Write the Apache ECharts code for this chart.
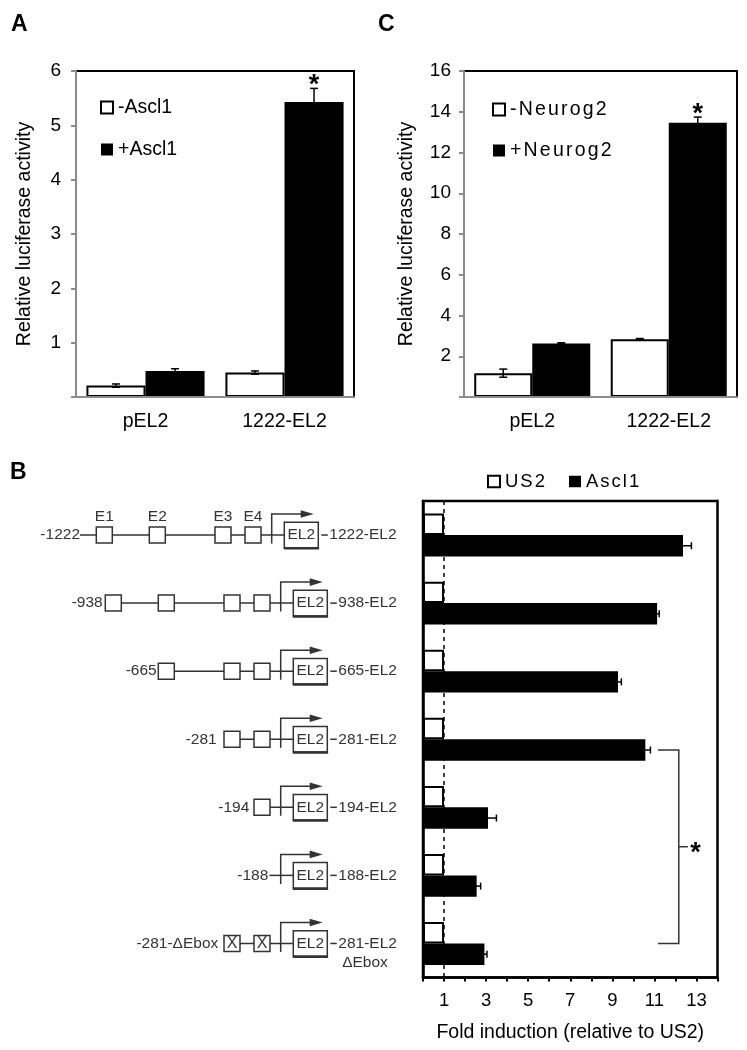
<!DOCTYPE html>
<html><head><meta charset="utf-8">
<script src="https://cdn.jsdelivr.net/npm/echarts@6/dist/echarts.min.js"></script>
<style>html,body{margin:0;padding:0;background:#fff}#c{width:747px;height:1050px}</style>
</head><body><div id="c"></div>
<script>
// ---------- Panel A ----------
const catsA = ['pEL2', '1222-EL2'];
const minusAscl1 = [0.21, 0.45];
const minusAscl1Err = [0.03, 0.03];
const plusAscl1 = [0.48, 5.43];
const plusAscl1Err = [0.04, 0.25];
const sigA = ['', '*'];
const ticksA = [1, 2, 3, 4, 5, 6];
// ---------- Panel C ----------
const catsC = ['pEL2', '1222-EL2'];
const minusNeurog2 = [1.17, 2.84];
const minusNeurog2Err = [0.2, 0.03];
const plusNeurog2 = [2.63, 13.46];
const plusNeurog2Err = [0.03, 0.28];
const sigC = ['', '*'];
const ticksC = [2, 4, 6, 8, 10, 12, 14, 16];
// ---------- Panel B ----------
const constructs = ['1222-EL2', '938-EL2', '665-EL2', '281-EL2', '194-EL2', '188-EL2', '281-EL2\nΔEbox'];
const startLabels = ['-1222', '-938', '-665', '-281', '-194', '-188', '-281-ΔEbox'];
const eboxNames = ['E1', 'E2', 'E3', 'E4'];
// 1 = E-box present, 2 = mutated E-box, 0 = absent
const eboxes = [[1,1,1,1],[1,1,1,1],[0,1,1,1],[0,0,1,1],[0,0,0,1],[0,0,0,0],[0,0,2,2]];
const us2 = [1, 1, 1, 1, 1, 1, 1];
const ascl1 = [12.36, 11.13, 9.27, 10.57, 3.09, 2.55, 2.92];
const ascl1Err = [0.4, 0.1, 0.16, 0.24, 0.4, 0.19, 0.12];
const foldTicks = [1, 3, 5, 7, 9, 11, 13];
const sigBFrom = 3, sigBTo = 6, sigBLabel = '*';

const FONT = '"Liberation Sans", Arial, Helvetica, sans-serif';
const chart = echarts.init(document.getElementById('c'));

function spaced(name) { return name.split('').map(c => '{s|' + c + '}').join(''); }

const FRAC_AC = 0.425, FRAC_B = 0.315;

function vErrSeries(xi, yi, vals, errs, g, sigs) {
  return {
    type: 'custom', xAxisIndex: xi, yAxisIndex: yi, z: 5, silent: true,
    data: vals.map((v, i) => [i, v, errs[i]]),
    encode: { x: 0, y: 1 },
    renderItem: (params, api) => {
      const i = api.value(0), v = api.value(1), e = api.value(2);
      const band = api.size([1, 0])[0];
      const off = (g === 0 ? -0.5 : 0.5) * band * FRAC_AC;
      const pT = api.coord([i, v + e]), pB = api.coord([i, v - e]);
      const x = pT[0] + off;
      const st = { stroke: '#000', lineWidth: 1.5 };
      const ch = [
        { type: 'line', shape: { x1: x, y1: pT[1], x2: x, y2: pB[1] }, style: st },
        { type: 'line', shape: { x1: x - 4, y1: pT[1], x2: x + 4, y2: pT[1] }, style: st },
        { type: 'line', shape: { x1: x - 4, y1: pB[1], x2: x + 4, y2: pB[1] }, style: st }
      ];
      const s = sigs ? sigs[params.dataIndex] : '';
      if (s) ch.push({ type: 'text', style: { text: s, x: x, y: pT[1] - 3, align: 'center', verticalAlign: 'middle', textAlign: 'center', textVerticalAlign: 'middle', fontSize: 27, fontWeight: 'bold', fontFamily: FONT, fill: '#000' } });
      return { type: 'group', children: ch };
    }
  };
}

function hErrSeries(vals, errs, g) {
  return {
    type: 'custom', xAxisIndex: 2, yAxisIndex: 2, z: 5, silent: true,
    data: vals.map((v, i) => [v, i, errs[i]]),
    encode: { x: 0, y: 1 },
    renderItem: (params, api) => {
      const v = api.value(0), i = api.value(1), e = api.value(2);
      const band = Math.abs(api.size([0, 1])[1]);
      const off = (g === 0 ? -0.5 : 0.5) * band * FRAC_B;
      const pR = api.coord([v + e, i]), pL = api.coord([v - e, i]);
      const y = pR[1] + off;
      const st = { stroke: '#000', lineWidth: 1.5 };
      return { type: 'group', children: [
        { type: 'line', shape: { x1: pL[0], y1: y, x2: pR[0], y2: y }, style: st },
        { type: 'line', shape: { x1: pR[0], y1: y - 3.5, x2: pR[0], y2: y + 3.5 }, style: st },
        { type: 'line', shape: { x1: pL[0], y1: y - 3.5, x2: pL[0], y2: y + 3.5 }, style: st }
      ] };
    }
  };
}

const bracketSeries = {
  type: 'custom', xAxisIndex: 2, yAxisIndex: 2, z: 6, silent: true,
  data: [[sigBFrom, sigBTo]],
  encode: { x: -1, y: -1 },
  renderItem: (params, api) => {
    const from = api.value(0), to = api.value(1);
    const band = Math.abs(api.size([0, 1])[1]);
    const yTop = api.coord([0, from])[1] + band * FRAC_B / 2;
    const yBot = api.coord([0, to])[1];
    const xL = api.coord([11.17, 0])[0], xV = api.coord([12.16, 0])[0];
    const xT = api.coord([12.59, 0])[0], xS = api.coord([12.96, 0])[0];
    const yM = (yTop + yBot) / 2;
    const st = { stroke: '#333', lineWidth: 1.5 };
    return { type: 'group', children: [
      { type: 'polyline', shape: { points: [[xL, yTop], [xV, yTop], [xV, yBot], [xL, yBot]] }, style: Object.assign({ fill: null }, st) },
      { type: 'line', shape: { x1: xV, y1: yM, x2: xT, y2: yM }, style: st },
      { type: 'text', style: { text: sigBLabel, x: xS, y: yM + 7, align: 'center', verticalAlign: 'middle', textAlign: 'center', textVerticalAlign: 'middle', fontSize: 27, fontWeight: 'bold', fontFamily: FONT, fill: '#000' } }
    ] };
  }
};

const greyAxis = '#8c8c8c';
const txt = (size) => ({ fontSize: size, color: '#000', fontFamily: FONT });

const option = {
  animation: false,
  textStyle: { fontFamily: FONT },
  grid: [
    { left: 76, top: 71, width: 278, height: 326, show: true, borderColor: '#000', borderWidth: 2, outerBoundsMode: 'none', containLabel: false },
    { left: 464, top: 71, width: 273, height: 326, show: true, borderColor: '#000', borderWidth: 2, outerBoundsMode: 'none', containLabel: false },
    { left: 423, top: 501, width: 294.5, height: 476.5, show: true, borderColor: '#000', borderWidth: 2.5, outerBoundsMode: 'none', containLabel: false }
  ],
  legend: [
    { data: ['-Ascl1', '+Ascl1'], orient: 'vertical', left: 100, top: 97.5, padding: 0, itemWidth: 12, itemHeight: 12, itemGap: 22, icon: 'rect', selectedMode: false, textStyle: txt(19.5), itemStyle: { borderWidth: 2 } },
    { data: ['-Neurog2', '+Neurog2'], orient: 'vertical', left: 492, top: 99.5, padding: 0, itemWidth: 12, itemHeight: 12, itemGap: 21, icon: 'rect', selectedMode: false, formatter: spaced, textStyle: Object.assign(txt(19.5), { rich: { s: { fontSize: 19.5, fontFamily: FONT, color: '#000', padding: [0, 2.2, 0, 0] } } }), itemStyle: { borderWidth: 2 } },
    { data: ['US2', 'Ascl1'], orient: 'horizontal', left: 487, top: 472, padding: 0, itemWidth: 12, itemHeight: 11.5, itemGap: 24, icon: 'rect', selectedMode: false, formatter: spaced, textStyle: Object.assign(txt(18.5), { rich: { s: { fontSize: 18.5, fontFamily: FONT, color: '#000', padding: [0, 2, 0, 0] } } }), itemStyle: { borderWidth: 2 } }
  ],
  xAxis: [
    { gridIndex: 0, type: 'category', data: catsA, z: 3, axisLine: { lineStyle: { color: greyAxis, width: 2 } }, axisTick: { show: false }, axisLabel: Object.assign({ margin: 15 }, txt(19.5)) },
    { gridIndex: 1, type: 'category', data: catsC, z: 3, axisLine: { lineStyle: { color: greyAxis, width: 2 } }, axisTick: { show: false }, axisLabel: Object.assign({ margin: 15 }, txt(19.5)) },
    { gridIndex: 2, type: 'value', min: 0, max: 14, interval: 1, z: 3, splitLine: { show: false },
      axisLine: { show: true, lineStyle: { color: '#000', width: 2.5 } }, axisTick: { show: true, length: 4, lineStyle: { color: '#000', width: 2 } },
      axisLabel: Object.assign({ margin: 14, formatter: v => foldTicks.includes(v) ? String(v) : '' }, txt(18.5)),
      name: 'Fold induction (relative to US2)', nameLocation: 'middle', nameGap: 45, nameTextStyle: txt(19.5) }
  ],
  yAxis: [
    { gridIndex: 0, type: 'value', min: 0, max: 6, interval: 1, z: 3, splitLine: { show: false },
      axisLine: { show: true, lineStyle: { color: greyAxis, width: 2 } }, axisTick: { show: true, length: 5, lineStyle: { color: greyAxis, width: 2 } },
      axisLabel: Object.assign({ margin: 15, formatter: v => ticksA.includes(v) ? String(v) : '' }, txt(19)),
      name: 'Relative luciferase activity', nameLocation: 'middle', nameGap: 41, nameTextStyle: txt(19.5) },
    { gridIndex: 1, type: 'value', min: 0, max: 16, interval: 2, z: 3, splitLine: { show: false },
      axisLine: { show: true, lineStyle: { color: greyAxis, width: 2 } }, axisTick: { show: true, length: 5, lineStyle: { color: greyAxis, width: 2 } },
      axisLabel: Object.assign({ margin: 13, formatter: v => ticksC.includes(v) ? String(v) : '' }, txt(19)),
      name: 'Relative luciferase activity', nameLocation: 'middle', nameGap: 47, nameTextStyle: txt(19.5) },
    { gridIndex: 2, type: 'category', inverse: true, data: constructs, z: 3,
      axisLine: { show: true, lineStyle: { color: '#000', width: 2.5 } }, axisTick: { show: false }, axisLabel: { show: false } }
  ],
  series: [
    { name: '-Ascl1', type: 'bar', xAxisIndex: 0, yAxisIndex: 0, data: minusAscl1, barWidth: '42.5%', barGap: '0%', itemStyle: { color: '#fff', borderColor: '#000', borderWidth: 2 } },
    { name: '+Ascl1', type: 'bar', xAxisIndex: 0, yAxisIndex: 0, data: plusAscl1, barWidth: '42.5%', barGap: '0%', itemStyle: { color: '#000' } },
    vErrSeries(0, 0, minusAscl1, minusAscl1Err, 0, null),
    vErrSeries(0, 0, plusAscl1, plusAscl1Err, 1, sigA),
    { name: '-Neurog2', type: 'bar', xAxisIndex: 1, yAxisIndex: 1, data: minusNeurog2, barWidth: '42.5%', barGap: '0%', itemStyle: { color: '#fff', borderColor: '#000', borderWidth: 2 } },
    { name: '+Neurog2', type: 'bar', xAxisIndex: 1, yAxisIndex: 1, data: plusNeurog2, barWidth: '42.5%', barGap: '0%', itemStyle: { color: '#000' } },
    vErrSeries(1, 1, minusNeurog2, minusNeurog2Err, 0, null),
    vErrSeries(1, 1, plusNeurog2, plusNeurog2Err, 1, sigC),
    { name: 'US2', type: 'bar', xAxisIndex: 2, yAxisIndex: 2, data: us2, barWidth: '31.5%', barGap: '0%', itemStyle: { color: '#fff', borderColor: '#000', borderWidth: 2 },
      markLine: { silent: true, symbol: 'none', label: { show: false }, lineStyle: { type: [4, 4], color: '#000', width: 1.5 }, data: [{ xAxis: 1 }] } },
    { name: 'Ascl1', type: 'bar', xAxisIndex: 2, yAxisIndex: 2, data: ascl1, barWidth: '31.5%', barGap: '0%', itemStyle: { color: '#000' } },
    hErrSeries(ascl1, ascl1Err, 1),
    bracketSeries
  ]
};
chart.setOption(option);

// ---------- schematic of constructs (left of panel B), rows aligned to the bar chart ----------
const DC = '#333';
const E_LEFT = [105.3, 158.3, 224, 254];
const rowShift = [-9, 0, 0, 0, 0, 0, 0];
const labelRight = [80, 102.7, 156.7, 216.7, 249.3, 268.3, 218.3];
const lineStart = [80, 105.3, 158.3, 224, 254, 269.5, 224];
const els = [];
const dfont = 15.5;
function T(text, x, y, align, size, weight, fill) {
  return { type: 'text', x: 0, y: 0, style: { text: text, x: x, y: y, align: align, verticalAlign: 'middle', textAlign: align, textVerticalAlign: 'middle', fontSize: size, fontWeight: weight || 'normal', fontFamily: FONT, fill: fill || DC } };
}
function L(x1, y1, x2, y2, w) { return { type: 'line', shape: { x1, y1, x2, y2 }, style: { stroke: DC, lineWidth: w || 1.5 } }; }
constructs.forEach((name, i) => {
  const y = chart.convertToPixel({ gridIndex: 2 }, [0, i])[1];
  const s = rowShift[i];
  const el2L = 293.3 + s, el2R = el2L + 34, tss = 280.7 + s;
  els.push(L(lineStart[i], y, el2L, y));
  eboxes[i].forEach((f, k) => {
    if (!f) return;
    const bx = E_LEFT[k] + s;
    els.push({ type: 'rect', shape: { x: bx, y: y - 8, width: 16, height: 16 }, style: { fill: '#fff', stroke: DC, lineWidth: 1.5 } });
    if (f === 2) els.push(T('X', bx + 8, y + 0.5, 'center', 16));
    if (i === 0) els.push(T(eboxNames[k], bx + 8, y - 18, 'center', dfont));
  });
  els.push({ type: 'polyline', shape: { points: [[tss, y + 8.5], [tss, y - 21], [tss + 31, y - 21]] }, style: { stroke: DC, lineWidth: 1.5, fill: null } });
  els.push({ type: 'polygon', shape: { points: [[tss + 42, y - 21], [tss + 29, y - 24.8], [tss + 29, y - 17.2]] }, style: { fill: DC } });
  els.push({ type: 'rect', shape: { x: el2L, y: y - 12.8, width: 34, height: 25.6 }, style: { fill: '#fff', stroke: DC, lineWidth: 1.5 } });
  els.push(L(el2L - 0.5, y + 13.3, el2R + 0.8, y + 13.3, 2.5));
  els.push(T('EL2', el2L + 17, y, 'center', dfont));
  els.push(L(el2R + 3, y, el2R + 9.5, y));
  const parts = name.split('\n');
  els.push(T(parts[0], el2R + 11, y, 'left', dfont));
  if (parts[1]) els.push(T(parts[1], 365, y + 19, 'center', dfont));
  els.push(T(startLabels[i], labelRight[i], y, 'right', dfont));
});
// panel letters
els.push(T('A', 11, 24.5, 'left', 23, 'bold', '#000'));
els.push(T('C', 378, 24.5, 'left', 23, 'bold', '#000'));
els.push(T('B', 10, 472.5, 'left', 23, 'bold', '#000'));
chart.setOption({ graphic: { elements: els } });
</script>
</body></html>
